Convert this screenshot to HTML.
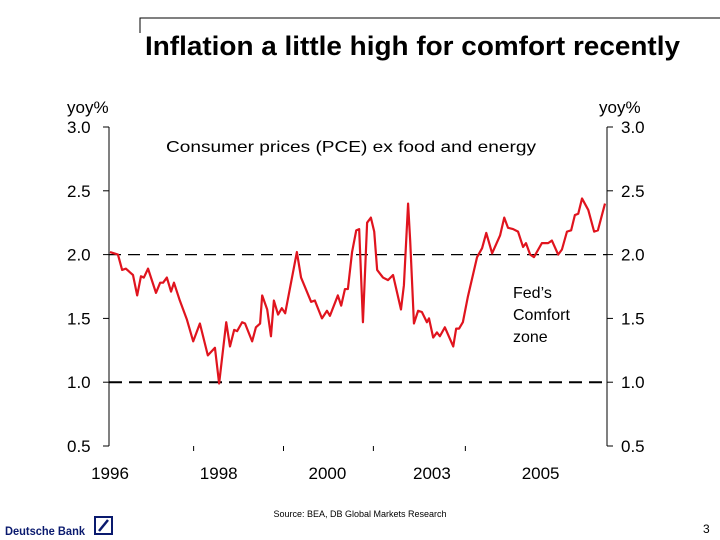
<!DOCTYPE html>
<html><head><meta charset="utf-8"><style>
html,body{margin:0;padding:0;background:#fff;}
svg{display:block;font-family:"Liberation Sans",Arial,sans-serif;}
</style></head><body>
<svg id="chart" width="720" height="540" viewBox="0 0 720 540">
<polyline points="140,33 140,18 720,18" fill="none" stroke="#000" stroke-width="1"/>
<text x="145" y="55" font-size="27" font-weight="bold" textLength="535" lengthAdjust="spacingAndGlyphs">Inflation a little high for comfort recently</text>
<text x="67" y="113" font-size="17">yoy%</text>
<text x="599" y="113" font-size="17">yoy%</text>
<text x="166" y="152" font-size="16" textLength="370" lengthAdjust="spacingAndGlyphs">Consumer prices (PCE) ex food and energy</text>
<text x="513" y="298" font-size="16"><tspan x="513">Fed’s</tspan><tspan x="513" dy="22">Comfort</tspan><tspan x="513" dy="22">zone</tspan></text>
<text x="360" y="517" font-size="9" text-anchor="middle">Source: BEA, DB Global Markets Research</text>
<text x="5" y="535" font-size="12" font-weight="bold" fill="#0a1a6e" textLength="80" lengthAdjust="spacingAndGlyphs">Deutsche Bank</text>
<g><rect x="95" y="517" width="17" height="17" fill="none" stroke="#0a1a6e" stroke-width="2"/><line x1="99" y1="531" x2="108" y2="520" stroke="#0a1a6e" stroke-width="2.5"/></g>
<text x="703" y="533" font-size="12">3</text>
<g id="axes"></g>
<g id="marks"></g>
</svg>
<script>
const months = [0,1.9,2.9,3.8,4.8,5.5,6.5,7.4,8.1,9.1,11.0,12.0,12.7,13.6,14.6,15.3,16.7,18.4,19.9,21.5,23.4,25.1,26.1,27.8,28.7,29.7,30.4,31.6,32.3,34.0,34.9,35.9,36.4,37.6,38.5,39.2,40.2,41.1,41.9,44.7,45.7,48.1,49.0,50.7,51.9,52.6,54.5,55.3,56.2,56.9,57.9,58.9,59.6,60.5,61.5,62.4,63.2,63.9,65.3,66.5,67.7,69.6,70.3,71.3,71.8,72.7,73.7,74.6,75.8,76.3,77.3,78.2,78.9,80.1,82.1,82.8,83.5,84.4,85.6,87.8,89.0,90.0,91.4,93.3,94.3,95.2,96.4,97.6,98.8,99.5,100.5,101.4,103.3,104.8,105.7,107.2,108.1,109.3,110.3,111.2,112.0,112.9,114.4,115.8,116.7,118.4];
const values = [2.02,2.00,1.88,1.89,1.86,1.84,1.68,1.83,1.82,1.89,1.70,1.78,1.78,1.82,1.71,1.78,1.64,1.49,1.32,1.46,1.21,1.27,0.99,1.47,1.28,1.41,1.40,1.47,1.46,1.32,1.43,1.46,1.68,1.57,1.36,1.64,1.53,1.58,1.54,2.02,1.82,1.63,1.64,1.50,1.56,1.52,1.68,1.60,1.73,1.73,2.02,2.19,2.20,1.47,2.25,2.29,2.18,1.88,1.82,1.80,1.84,1.57,1.76,2.40,2.11,1.46,1.56,1.55,1.47,1.50,1.35,1.39,1.36,1.43,1.28,1.42,1.42,1.47,1.67,1.98,2.05,2.17,2.01,2.15,2.29,2.21,2.20,2.18,2.06,2.09,2.00,1.98,2.09,2.09,2.11,2.00,2.04,2.18,2.19,2.31,2.32,2.44,2.35,2.18,2.19,2.40];
const yTicks = [3.0,2.5,2.0,1.5,1.0,0.5];
const yTickLabels = ["3.0","2.5","2.0","1.5","1.0","0.5"];
const xLabelMonths = [0,26,52,77,103];
const xLabels = ["1996","1998","2000","2003","2005"];
const xTickMonths = [20,41.5,63,85];
const comfortBounds = [2.0,1.0];

const NS="http://www.w3.org/2000/svg";
const X0=110, X1=605, M1=118.4, Y0=127, YS=127.6;
const xs=m=>X0+(m/M1)*(X1-X0);
const ys=v=>Y0+(3-v)*YS;
const axes=document.getElementById('axes'), marks=document.getElementById('marks');
function mk(tag,attrs,parent){const e=document.createElementNS(NS,tag);for(const k in attrs)e.setAttribute(k,attrs[k]);parent.appendChild(e);return e;}

let l=mk('line',{x1:109,y1:ys(3),x2:109,y2:ys(0.5),stroke:'#000','stroke-width':1},axes);


l=mk('line',{x1:607,y1:ys(3),x2:607,y2:ys(0.5),stroke:'#000','stroke-width':1},axes);


yTicks.forEach((v,i)=>{
  const y=ys(v);
  mk('line',{x1:103,y1:y,x2:109,y2:y,stroke:'#000'},axes);
  mk('line',{x1:607,y1:y,x2:613,y2:y,stroke:'#000'},axes);
  let t=mk('text',{x:67,y:y+6,'font-size':17},axes); t.textContent=yTickLabels[i];
  
  
  t=mk('text',{x:621,y:y+6,'font-size':17},axes); t.textContent=yTickLabels[i];
  
  
});
xLabelMonths.forEach((m,i)=>{
  const t=mk('text',{x:xs(m),y:479,'font-size':17,'text-anchor':'middle'},axes); t.textContent=xLabels[i];
  
  
});
xTickMonths.forEach(m=>{
  const t=mk('line',{x1:xs(m),y1:446,x2:xs(m),y2:451,stroke:'#000'},axes);
  
  
});
comfortBounds.forEach((v,i)=>{
  const d=mk('line',{x1:109,y1:ys(v),x2:607,y2:ys(v),stroke:'#000','stroke-width':i==0?1.2:2,'stroke-dasharray':i==0?'12,7':'13,7'},axes);
  
  
});
const pl=mk('polyline',{points:months.map((m,i)=>xs(m)+','+ys(values[i])).join(' '),fill:'none',stroke:'#e0141e','stroke-width':2.2,'stroke-linejoin':'round'},marks);


</script>
</body></html>
